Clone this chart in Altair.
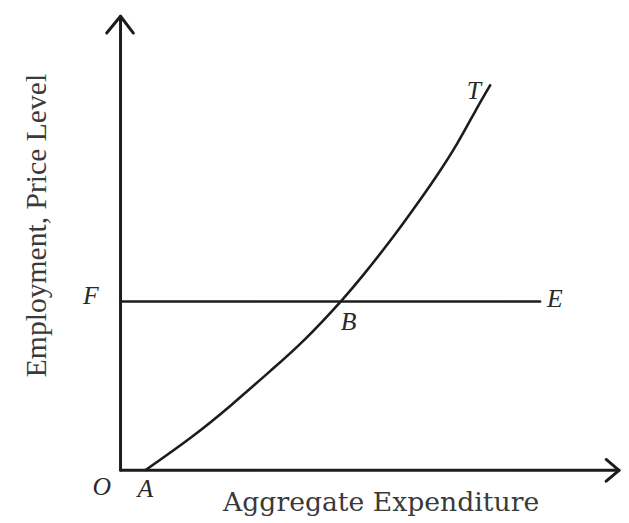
import altair as alt
import pandas as pd

# Coordinates in a unit frame where the origin O is (0, 0)
curve_x = [25, 71, 112, 151, 187, 223, 246, 272, 297, 320, 341, 360, 375]
curve_y = [0, 33, 66, 100, 133, 171, 198, 231, 265, 298, 331, 365, 391]

fe_x = [0, 425]
fe_y = [171, 171]

yaxis_x = [0, 0]
yaxis_y = [0, 460]
xaxis_x = [0, 505]
xaxis_y = [0, 0]

yarrow_x = [-14, 0, 13]
yarrow_y = [443, 460, 443]
xarrow_x = [492, 505, 492]
xarrow_y = [11, 0, -11]

point_labels = ["O", "A", "F", "E", "B", "T"]
label_x = [-19, 25, -30, 440, 231, 358]
label_y = [-17, -19, 176, 173, 150, 384]

x_title = "Aggregate Expenditure"
y_title = "Employment,  Price Level"

INK = "#1c1c1c"
X = alt.Scale(domain=[0, 507], nice=False, zero=False)
Y = alt.Scale(domain=[0, 465], nice=False, zero=False)


def path(xs, ys, name):
    return pd.DataFrame({"x": xs, "y": ys, "o": list(range(len(xs))), "g": name})


def line_layer(df, width):
    return alt.Chart(df).mark_line(color=INK, strokeWidth=width, clip=False,
                                   strokeCap="round", strokeJoin="round").encode(
        x=alt.X("x:Q", scale=X, axis=None),
        y=alt.Y("y:Q", scale=Y, axis=None),
        order="o:Q",
        detail="g:N",
    )


axes_df = pd.concat([path(yaxis_x, yaxis_y, "ya"), path(xaxis_x, xaxis_y, "xa"),
                     path(yarrow_x, yarrow_y, "yh"), path(xarrow_x, xarrow_y, "xh")],
                    ignore_index=True)
axes = line_layer(axes_df, 3)

fe = line_layer(path(fe_x, fe_y, "fe"), 2.6)

curve = alt.Chart(path(curve_x, curve_y, "t")).mark_line(
    color=INK, strokeWidth=2.6, interpolate="natural", clip=False).encode(
    x=alt.X("x:Q", scale=X, axis=None),
    y=alt.Y("y:Q", scale=Y, axis=None),
    order="o:Q",
)

labels = alt.Chart(pd.DataFrame({"t": point_labels, "x": label_x, "y": label_y})).mark_text(
    font="Liberation Serif", fontStyle="italic", fontSize=26, color="#2a2a2a",
    align="center", baseline="middle", clip=False).encode(
    x=alt.X("x:Q", scale=X, axis=None),
    y=alt.Y("y:Q", scale=Y, axis=None),
    text="t:N",
)

xt = alt.Chart(pd.DataFrame({"t": [x_title], "x": [264], "y": [-33]})).mark_text(
    font="DejaVu Serif", fontSize=27, color="#3a3a3a", align="center",
    baseline="middle", clip=False).encode(
    x=alt.X("x:Q", scale=X, axis=None),
    y=alt.Y("y:Q", scale=Y, axis=None),
    text="t:N",
)

yt = alt.Chart(pd.DataFrame({"t": [y_title], "x": [-84], "y": [248]})).mark_text(
    font="Liberation Serif", fontSize=30, color="#3a3a3a", align="center",
    baseline="middle", angle=270, clip=False).encode(
    x=alt.X("x:Q", scale=X, axis=None),
    y=alt.Y("y:Q", scale=Y, axis=None),
    text="t:N",
)

chart = alt.layer(axes, fe, curve, labels, xt, yt).properties(
    width=507, height=465,
    background="white",
    autosize=alt.AutoSizeParams(type="none"),
    padding={"left": 114, "top": 0, "right": 0, "bottom": 50},
).configure_view(stroke=None)

chart.save("out.html", embed_options={"renderer": "svg", "actions": False})
